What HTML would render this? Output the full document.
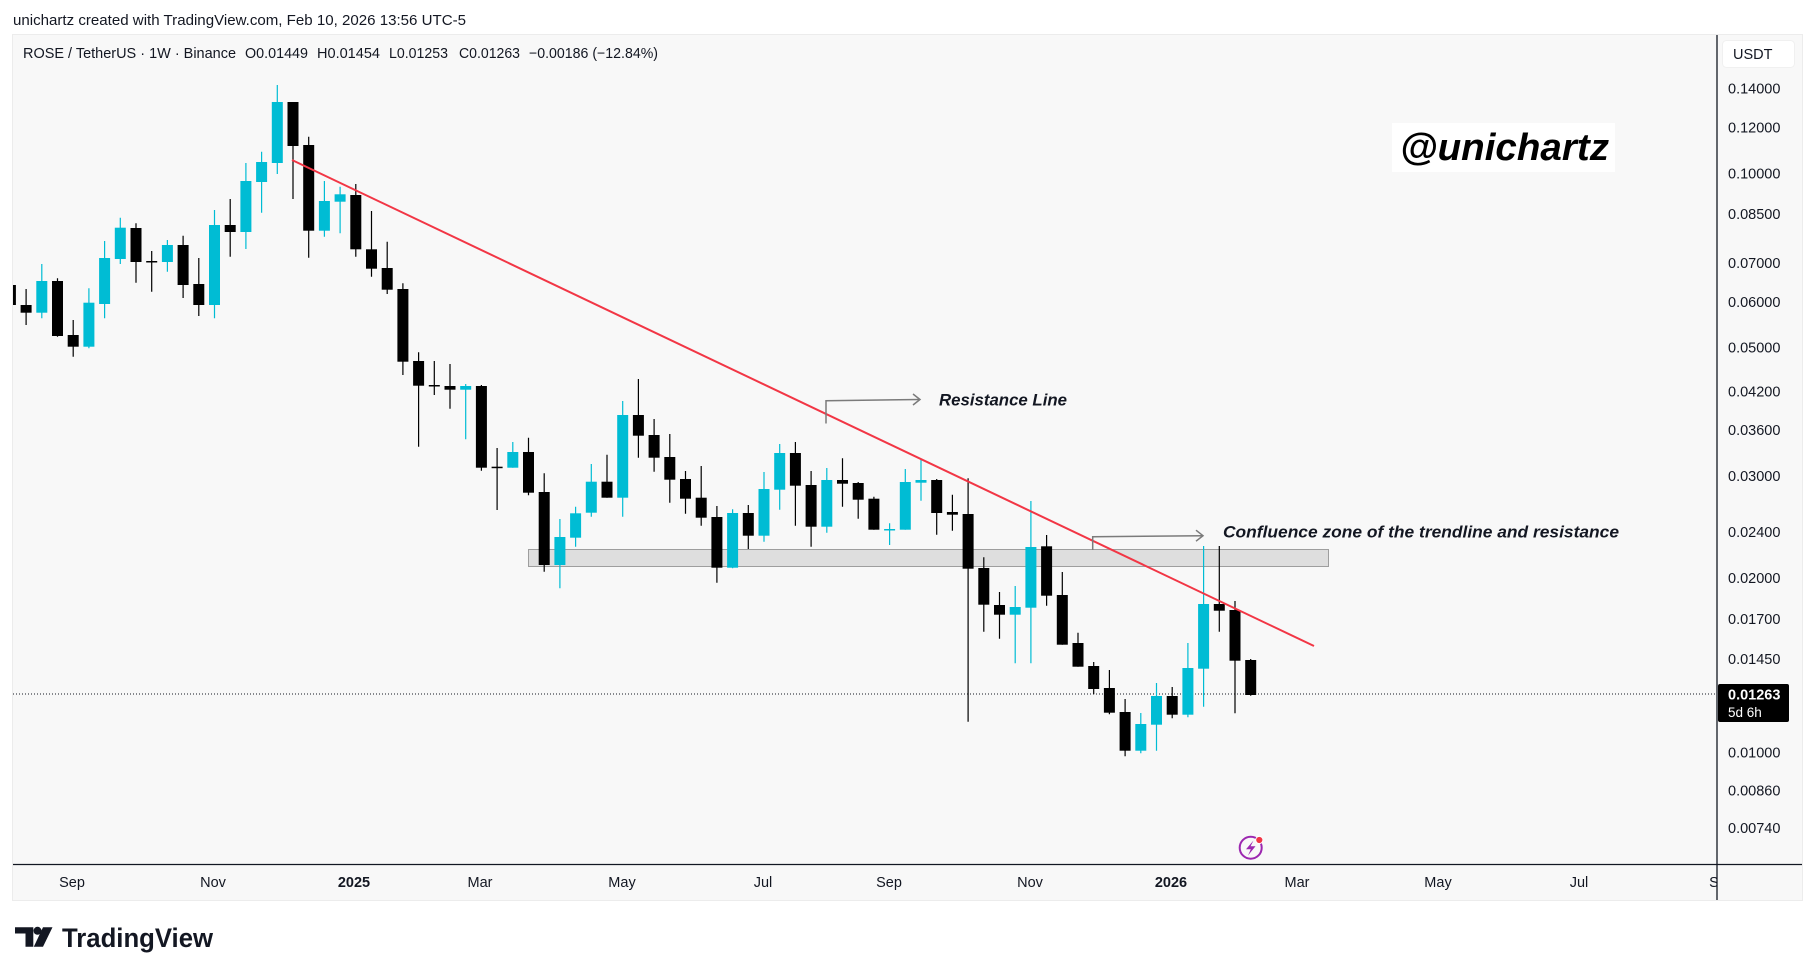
<!DOCTYPE html>
<html>
<head>
<meta charset="utf-8">
<style>
html,body{margin:0;padding:0;background:#fff;width:1815px;height:975px;overflow:hidden}
svg{display:block}
</style>
</head>
<body>
<svg width="1815" height="975" viewBox="0 0 1815 975" xmlns="http://www.w3.org/2000/svg" font-family="'Liberation Sans', Arial, sans-serif">
<defs>
<clipPath id="cp"><rect x="13" y="35" width="1704" height="829"/></clipPath>
<clipPath id="tp"><rect x="13" y="865" width="1704" height="35"/></clipPath>
</defs>
<rect x="0" y="0" width="1815" height="975" fill="#ffffff"/>
<text x="13" y="25" font-size="14.5" fill="#131722" textLength="453" lengthAdjust="spacingAndGlyphs">unichartz created with TradingView.com, Feb 10, 2026 13:56 UTC-5</text>
<rect x="12.5" y="34.5" width="1790" height="866" fill="#f8f8f8" stroke="#ececec" stroke-width="1"/>

<g clip-path="url(#cp)">
<rect x="528.5" y="549.5" width="800" height="17" fill="#dedede" stroke="#9e9e9e" stroke-width="1"/>
<line x1="13" y1="694" x2="1717" y2="694" stroke="#131722" stroke-width="1" stroke-dasharray="1 2"/>

<path fill="none" stroke="#00bcd4" stroke-width="1.2" d="M41.8 264V318.3 M88.9 288.3V348.3 M104.6 241V318.3 M120.3 217.7V264 M167.4 240V271.7 M214.5 210V318.3 M245.9 163V249 M261.6 151.7V212.7 M277.3 85V174 M324.4 181V236.7 M340.1 186.7V233.3 M465.7 384V439.3 M512.8 442V467.7 M559.9 519V588.3 M575.6 506.7V546.7 M591.3 464V516.7 M622.7 401V516.7 M732.6 509.3V568.3 M764 472V541.7 M779.7 444V509.7 M826.8 468V532.7 M889.6 523.3V545 M905.3 469V529.7 M921 459V500.7 M1015.2 586V663.3 M1030.9 501V663.3 M1140.8 713V753.3 M1156.5 683V750.7 M1187.9 643V717.3 M1203.6 546V706.7"/>
<path fill="none" stroke="#000000" stroke-width="1.2" d="M10.4 280V312 M26.1 289V325 M57.5 278.3V336.7 M73.2 320V356.7 M136 223.3V282.7 M151.7 251V291.7 M183.1 235.7V298 M198.8 258V316 M230.2 199V256.7 M293 102V199 M308.7 136.7V257.7 M355.8 184V256.7 M371.5 211V276.7 M387.2 241.7V294 M402.9 283.3V375 M418.6 352.3V446.7 M434.3 361V395 M450 364V408.7 M481.4 385V470.7 M497.1 448V510 M528.5 437.7V495.3 M544.2 473.3V571.7 M607 454.7V497.7 M638.4 379V457.7 M654.1 419V471.7 M669.8 434V502.7 M685.5 471V513.7 M701.2 466V525.7 M716.9 506V582.7 M748.3 505V549 M795.4 442V525.7 M811.1 471V546.7 M842.5 458.3V506.7 M858.2 482V518.7 M873.9 496.7V529.7 M936.7 479V534.7 M952.4 494.7V530.7 M968.1 478.3V721.7 M983.8 557.3V631.7 M999.5 592V638.7 M1046.6 535V605.7 M1062.3 572V644.7 M1078 632.7V666.7 M1093.7 662V694.3 M1109.4 670V714.3 M1125.1 699V756.3 M1172.2 687V718.3 M1219.3 546V631.7 M1235 601V713.3 M1250.7 659V695.7"/>

<g fill="#00bcd4">
<rect x="36.3" y="281" width="11" height="31.7"/>
<rect x="83.4" y="302.7" width="11" height="44"/>
<rect x="99.1" y="258" width="11" height="46"/>
<rect x="114.8" y="227.7" width="11" height="31.3"/>
<rect x="161.9" y="245" width="11" height="17"/>
<rect x="209" y="225" width="11" height="80"/>
<rect x="240.4" y="181" width="11" height="51"/>
<rect x="256.1" y="162" width="11" height="20"/>
<rect x="271.8" y="102" width="11" height="61"/>
<rect x="318.9" y="201" width="11" height="29.7"/>
<rect x="334.6" y="194.3" width="11" height="7.4"/>
<rect x="460.2" y="386" width="11" height="3.7"/>
<rect x="507.3" y="452" width="11" height="15.7"/>
<rect x="554.4" y="537" width="11" height="28"/>
<rect x="570.1" y="513.3" width="11" height="24.4"/>
<rect x="585.8" y="481.7" width="11" height="31"/>
<rect x="617.2" y="415" width="11" height="82.7"/>
<rect x="727.1" y="513" width="11" height="54.7"/>
<rect x="758.5" y="489" width="11" height="46.7"/>
<rect x="774.2" y="453" width="11" height="36.7"/>
<rect x="821.3" y="480" width="11" height="46.7"/>
<rect x="884.1" y="529" width="11" height="1.5"/>
<rect x="899.8" y="482" width="11" height="47.7"/>
<rect x="915.5" y="480" width="11" height="2.7"/>
<rect x="1009.7" y="607" width="11" height="7.7"/>
<rect x="1025.4" y="547" width="11" height="60.7"/>
<rect x="1135.3" y="724" width="11" height="26.7"/>
<rect x="1151" y="696" width="11" height="28.7"/>
<rect x="1182.4" y="668" width="11" height="46.7"/>
<rect x="1198.1" y="604" width="11" height="64.7"/>
</g>
<g fill="#000000">
<rect x="4.9" y="285" width="11" height="20"/>
<rect x="20.6" y="305" width="11" height="7.7"/>
<rect x="52" y="281" width="11" height="55"/>
<rect x="67.7" y="335" width="11" height="11.7"/>
<rect x="130.5" y="228" width="11" height="34"/>
<rect x="146.2" y="261" width="11" height="1.5"/>
<rect x="177.6" y="245" width="11" height="40"/>
<rect x="193.3" y="284" width="11" height="21"/>
<rect x="224.7" y="225" width="11" height="7"/>
<rect x="287.5" y="102" width="11" height="44"/>
<rect x="303.2" y="145" width="11" height="85.7"/>
<rect x="350.3" y="195" width="11" height="54.3"/>
<rect x="366" y="249.3" width="11" height="19.4"/>
<rect x="381.7" y="268" width="11" height="21.7"/>
<rect x="397.4" y="289" width="11" height="72.7"/>
<rect x="413.1" y="361" width="11" height="24.7"/>
<rect x="428.8" y="385" width="11" height="1.5"/>
<rect x="444.5" y="386" width="11" height="3.7"/>
<rect x="475.9" y="386" width="11" height="81.7"/>
<rect x="491.6" y="466.7" width="11" height="1.5"/>
<rect x="523" y="452" width="11" height="40.7"/>
<rect x="538.7" y="492" width="11" height="73"/>
<rect x="601.5" y="481.7" width="11" height="16"/>
<rect x="632.9" y="415" width="11" height="20.7"/>
<rect x="648.6" y="435" width="11" height="22.7"/>
<rect x="664.3" y="457" width="11" height="22.7"/>
<rect x="680" y="479" width="11" height="19.7"/>
<rect x="695.7" y="497.7" width="11" height="20"/>
<rect x="711.4" y="517" width="11" height="50.7"/>
<rect x="742.8" y="513" width="11" height="22.7"/>
<rect x="789.9" y="453" width="11" height="32.7"/>
<rect x="805.6" y="485" width="11" height="41.7"/>
<rect x="837" y="480" width="11" height="3.7"/>
<rect x="852.7" y="483" width="11" height="16.7"/>
<rect x="868.4" y="498.7" width="11" height="31"/>
<rect x="931.2" y="480" width="11" height="33"/>
<rect x="946.9" y="512" width="11" height="2.7"/>
<rect x="962.6" y="514" width="11" height="54.7"/>
<rect x="978.3" y="568" width="11" height="36.7"/>
<rect x="994" y="605" width="11" height="9.7"/>
<rect x="1041.1" y="546.3" width="11" height="49.4"/>
<rect x="1056.8" y="595" width="11" height="49.7"/>
<rect x="1072.5" y="643" width="11" height="23.7"/>
<rect x="1088.2" y="666" width="11" height="23"/>
<rect x="1103.9" y="688" width="11" height="24.7"/>
<rect x="1119.6" y="712" width="11" height="38.7"/>
<rect x="1166.7" y="696" width="11" height="18.7"/>
<rect x="1213.8" y="604" width="11" height="6.7"/>
<rect x="1229.5" y="610" width="11" height="50.7"/>
<rect x="1245.2" y="660" width="11" height="35"/>
</g>

<line x1="292" y1="160" x2="1314" y2="646" stroke="#f23645" stroke-width="2"/>

<g fill="none" stroke="#7b7b7b" stroke-width="1.5">
<path d="M826 423.5V400.7L920 399.5"/>
<path d="M913 394L920 399.5L913 405"/>
<path d="M1092.7 550V536.7L1203 535.7"/>
<path d="M1196 530.2L1203 535.7L1196 541.2"/>
</g>
<text x="939" y="405.5" font-size="17" font-weight="bold" font-style="italic" fill="#131722" textLength="128" lengthAdjust="spacingAndGlyphs">Resistance Line</text>
<text x="1223" y="537.5" font-size="17" font-weight="bold" font-style="italic" fill="#131722" textLength="396" lengthAdjust="spacingAndGlyphs">Confluence zone of the trendline and resistance</text>

<rect x="1392" y="123" width="223" height="49" fill="#ffffff"/>
<text x="1400" y="160" font-size="38" font-weight="bold" font-style="italic" fill="#000000" textLength="209" lengthAdjust="spacingAndGlyphs">@unichartz</text>

<circle cx="1250.7" cy="847.7" r="11" fill="none" stroke="#9c27b0" stroke-width="2"/>
<path d="M1253.5 840.5L1246 849.2L1250.8 849.2L1248 855.5L1255.5 846.3L1250.6 846.3Z" fill="#9c27b0"/>
<circle cx="1259.3" cy="840" r="3.6" fill="#f23645" stroke="#ffffff" stroke-width="1"/>
</g>

<g font-size="14.5" fill="#131722">
<text x="23" y="58" textLength="213" lengthAdjust="spacingAndGlyphs">ROSE / TetherUS · 1W · Binance</text>
<text x="245" y="58" textLength="63" lengthAdjust="spacingAndGlyphs">O0.01449</text>
<text x="317" y="58" textLength="63" lengthAdjust="spacingAndGlyphs">H0.01454</text>
<text x="389" y="58" textLength="59" lengthAdjust="spacingAndGlyphs">L0.01253</text>
<text x="459" y="58" textLength="61" lengthAdjust="spacingAndGlyphs">C0.01263</text>
<text x="529" y="58" textLength="129" lengthAdjust="spacingAndGlyphs">−0.00186 (−12.84%)</text>
</g>

<line x1="1717" y1="35" x2="1717" y2="900" stroke="#131722" stroke-width="1.3"/>
<line x1="13" y1="864.5" x2="1802" y2="864.5" stroke="#131722" stroke-width="1.3"/>

<rect x="1722.5" y="40.5" width="72" height="27" rx="4" fill="#ffffff" stroke="#f0f0f0"/>
<text x="1733" y="59" font-size="14.5" fill="#131722">USDT</text>

<g font-size="14.5" fill="#131722">
<text x="1728" y="93.7">0.14000</text>
<text x="1728" y="132.4">0.12000</text>
<text x="1728" y="178.3">0.10000</text>
<text x="1728" y="219.2">0.08500</text>
<text x="1728" y="268">0.07000</text>
<text x="1728" y="306.8">0.06000</text>
<text x="1728" y="352.6">0.05000</text>
<text x="1728" y="396.5">0.04200</text>
<text x="1728" y="435.2">0.03600</text>
<text x="1728" y="481.1">0.03000</text>
<text x="1728" y="537.2">0.02400</text>
<text x="1728" y="583.1">0.02000</text>
<text x="1728" y="624">0.01700</text>
<text x="1728" y="663.9">0.01450</text>
<text x="1728" y="757.4">0.01000</text>
<text x="1728" y="795.3">0.00860</text>
<text x="1728" y="833.1">0.00740</text>
</g>

<rect x="1718" y="684" width="71" height="38" rx="2" fill="#000000"/>
<text x="1728" y="699.5" font-size="14.5" font-weight="bold" fill="#ffffff">0.01263</text>
<text x="1728" y="717" font-size="13.5" fill="#ffffff">5d 6h</text>

<g font-size="14.5" fill="#131722" text-anchor="middle" clip-path="url(#tp)">
<text x="72" y="887">Sep</text>
<text x="213" y="887">Nov</text>
<text x="354" y="887" font-weight="bold">2025</text>
<text x="480" y="887">Mar</text>
<text x="622" y="887">May</text>
<text x="763" y="887">Jul</text>
<text x="889" y="887">Sep</text>
<text x="1030" y="887">Nov</text>
<text x="1171" y="887" font-weight="bold">2026</text>
<text x="1297" y="887">Mar</text>
<text x="1438" y="887">May</text>
<text x="1579" y="887">Jul</text>
<text x="1722" y="887">Sep</text>
</g>

<g fill="#131722">
<path d="M15 927.3H33.3V946.7H25.5V933.5H15Z"/>
<circle cx="37.5" cy="930.8" r="4"/>
<path d="M43 927.3H52.5L43 946.7H33.8Z"/>
</g>
<text x="62" y="947" font-size="27" font-weight="bold" fill="#131722" textLength="151" lengthAdjust="spacingAndGlyphs">TradingView</text>
</svg>
</body>
</html>
